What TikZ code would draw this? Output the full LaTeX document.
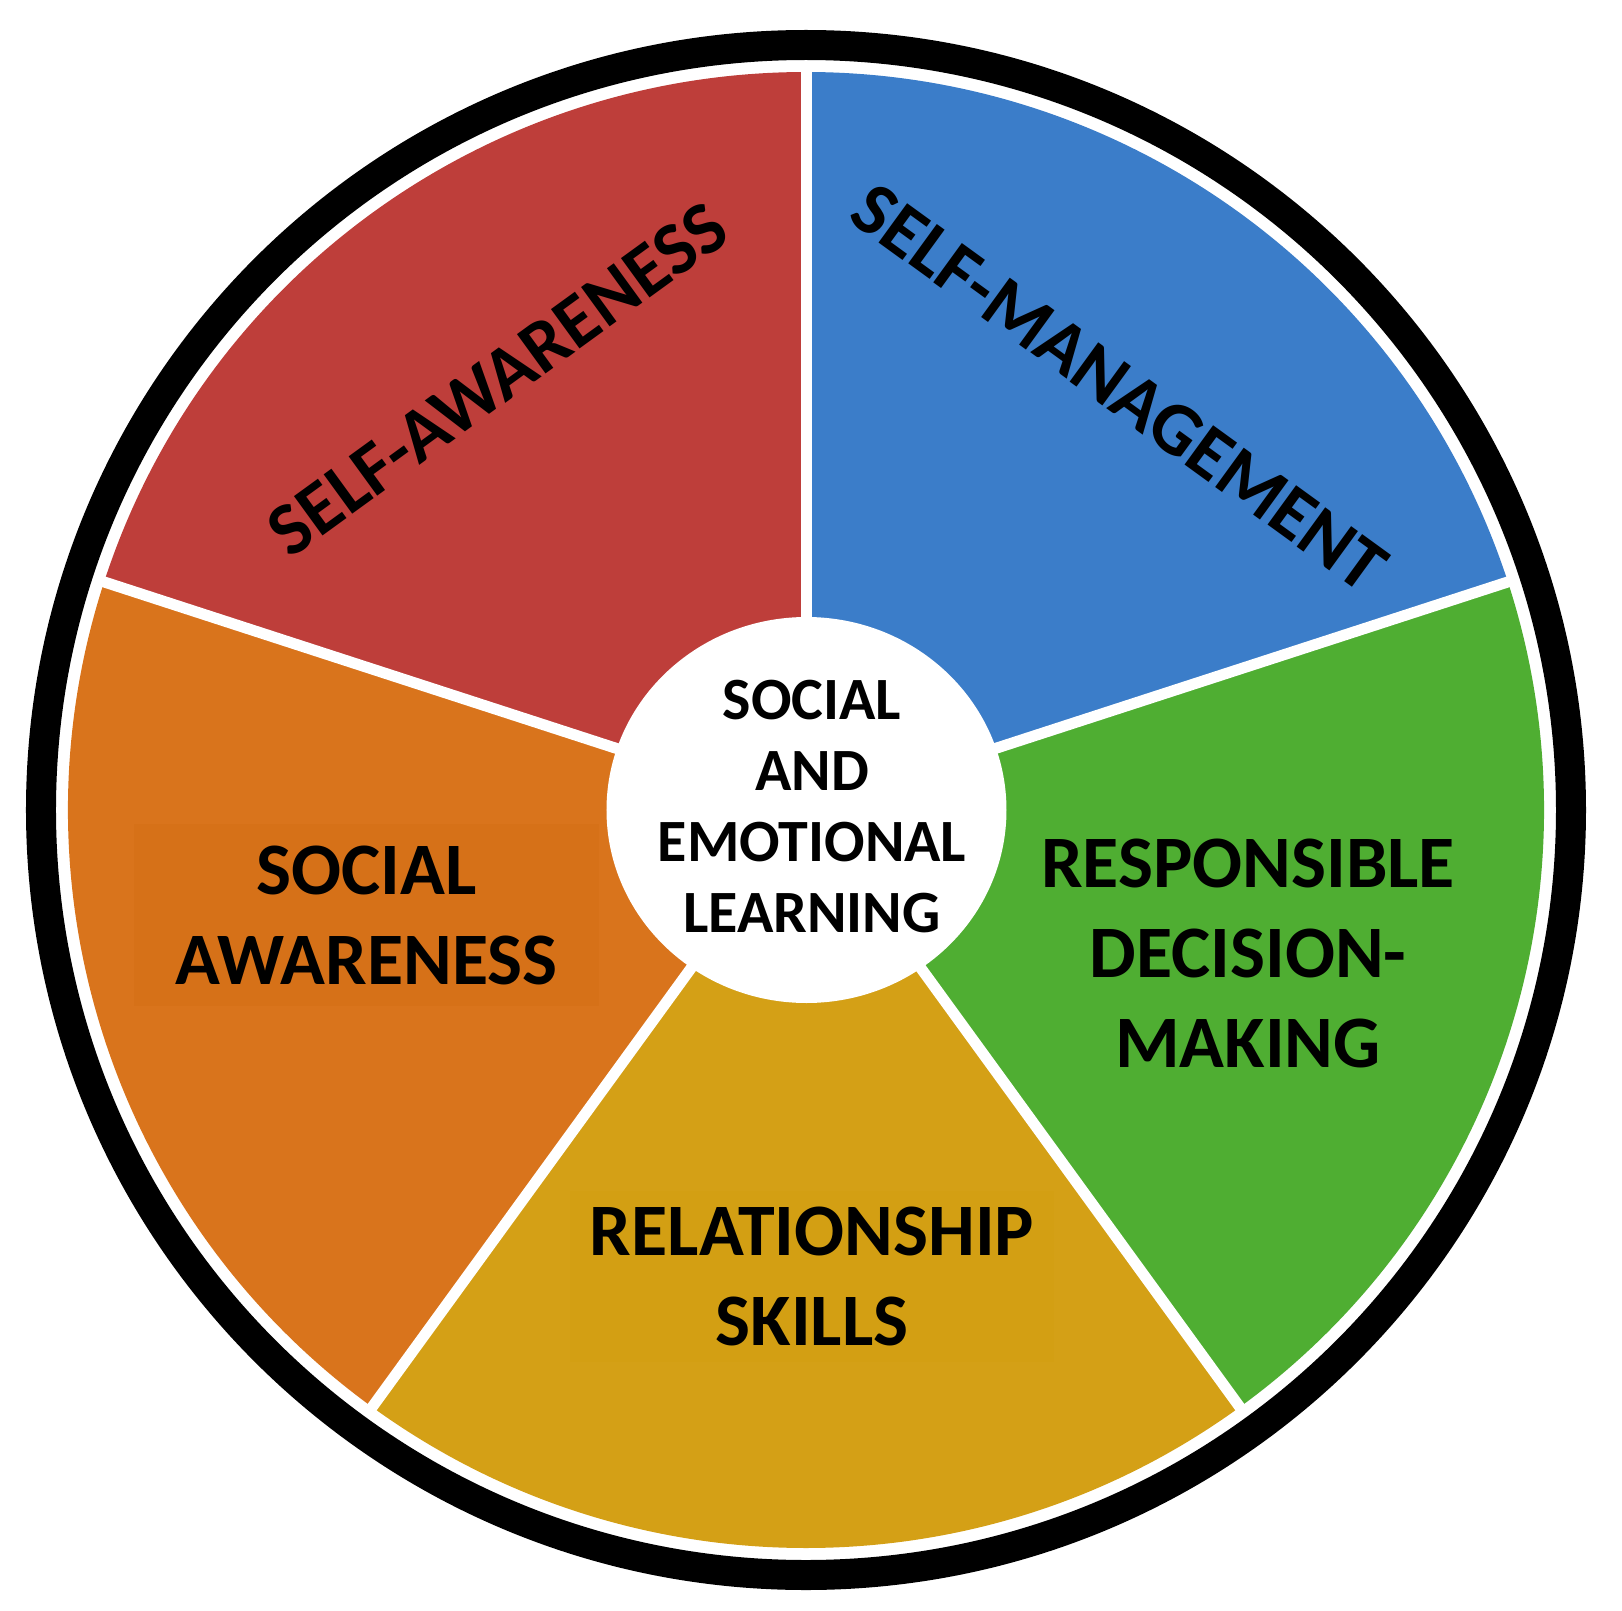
\documentclass[tikz,border=0pt]{standalone}
\usepackage{fontspec}
\setmainfont{Carlito}
\definecolor{selred}{HTML}{BE3E3A}
\definecolor{selblue}{HTML}{3B7DC9}
\definecolor{selgreen}{HTML}{4FAE32}
\definecolor{selgold}{HTML}{D4A016}
\definecolor{selgoldbox}{HTML}{D39F13}
\definecolor{selorange}{HTML}{D9741C}
\definecolor{selorangebox}{HTML}{D67118}
\tikzset{
  sector/.style={draw=none},
  gapline/.style={draw=white, line width=11},
  biglabel/.style={font=\bfseries\fontsize{74}{90}\selectfont, align=center, text=black, inner sep=0},
  slantlabel/.style={font=\bfseries\fontsize{75}{90}\selectfont, text=black, inner sep=0},
  centerlabel/.style={font=\bfseries\fontsize{60}{71}\selectfont, align=center, text=black, inner sep=0},
}
\begin{document}
\begin{tikzpicture}[x=1pt,y=1pt]
\useasboundingbox (-806,-800) rectangle (816,810);
\def\R{738}
% sectors
\fill[selred]    (0,0) -- (90:\R)  arc[start angle=90,  end angle=162, radius=\R] -- cycle;
\fill[selblue]   (0,0) -- (18:\R)  arc[start angle=18,  end angle=90,  radius=\R] -- cycle;
\fill[selgreen]  (0,0) -- (-54:\R) arc[start angle=-54, end angle=18,  radius=\R] -- cycle;
\fill[selgold]   (0,0) -- (-126:\R) arc[start angle=-126, end angle=-54, radius=\R] -- cycle;
\fill[selorange] (0,0) -- (162:\R) arc[start angle=162, end angle=234, radius=\R] -- cycle;
% white gaps
\coordinate (c) at (0,0);
\foreach \a in {90,18,-54,-126,162} {
  \coordinate (g\a) at (\a:748);
  \draw[gapline] (c) -- (g\a);
}
% outer ring
\draw[line width=30] (c) circle[radius=765];
% centre disc
\fill[white] (0.5,0) ellipse[x radius=200, y radius=193];
\node[centerlabel] (sel) at (6,3) {SOCIAL\\AND\\EMOTIONAL\\LEARNING};
% labels
\node[slantlabel, rotate=36] (sa) at (125.6:530) {SELF-AWARENESS};
\node[slantlabel, rotate=-36] (sm) at (53.4:526) {SELF-MANAGEMENT};
\node[biglabel, fill=selorangebox, inner xsep=41, inner ysep=21] (soc) at (-439.5,-105) {SOCIAL\\AWARENESS};
\node[biglabel] (rdm) at (442,-143) {RESPONSIBLE\\DECISION-\\MAKING};
\node[biglabel, fill=selgoldbox, inner xsep=20, inner ysep=16] (rel) at (6,-466.5) {RELATIONSHIP\\SKILLS};
\end{tikzpicture}
\end{document}
